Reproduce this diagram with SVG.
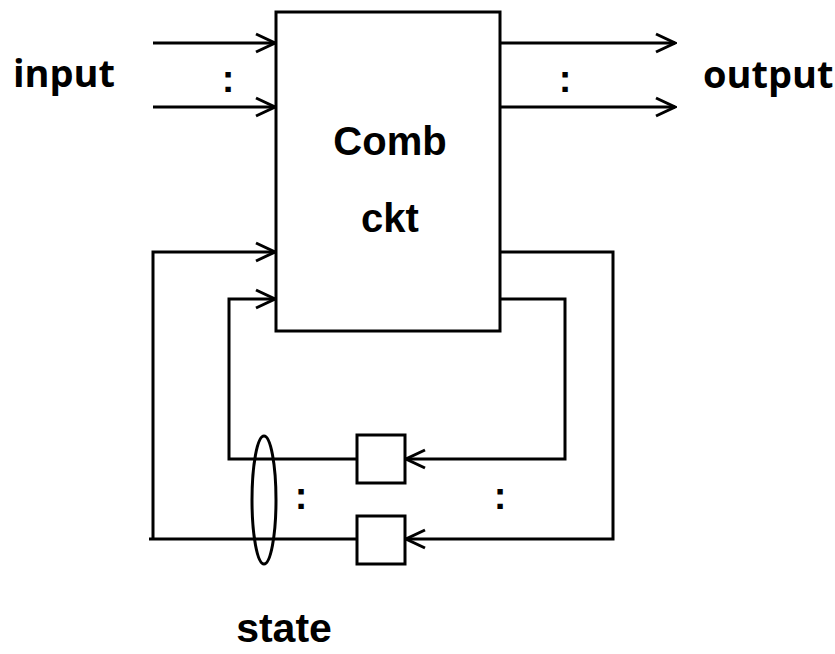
<svg xmlns="http://www.w3.org/2000/svg" width="835" height="654" viewBox="0 0 835 654">
<style>
.ln{fill:none;stroke:#000;stroke-width:3;stroke-linecap:butt;stroke-linejoin:miter}
.bx{fill:#fff;stroke:#000;stroke-width:3}
.ah{fill:none;stroke:#000;stroke-width:3}
.t{font-family:"Liberation Sans",Arial,sans-serif;font-weight:bold;fill:#000}
.t2{font-family:"Open Sans","Noto Sans",sans-serif;font-weight:bold;fill:#000}
</style>
<defs>
<marker id="arr" markerUnits="userSpaceOnUse" markerWidth="24" markerHeight="24" viewBox="-22 -12 24 24" refX="0" refY="0" orient="auto">
<path d="M-19,-9 L0,0 L-19,9" class="ah"/>
</marker>
</defs>
<rect width="835" height="654" fill="#fff"/>
<g id="connectors">
<line class="ln" x1="153" y1="43" x2="275" y2="43" marker-end="url(#arr)"/>
<line class="ln" x1="153" y1="107" x2="275" y2="107" marker-end="url(#arr)"/>
<line class="ln" x1="500" y1="43" x2="675" y2="43" marker-end="url(#arr)"/>
<line class="ln" x1="500" y1="107" x2="675" y2="107" marker-end="url(#arr)"/>
<polyline class="ln" points="500,252 613,252 613,539 406,539" marker-end="url(#arr)"/>
<polyline class="ln" points="500,299 565,299 565,459 406,459" marker-end="url(#arr)"/>
<polyline class="ln" points="357,459 229,459 229,299 275,299" marker-end="url(#arr)"/>
<polyline class="ln" points="357,539 149,539"/>
<polyline class="ln" points="153,539 153,252 275,252" marker-end="url(#arr)"/>
</g>
<g id="comb">
<rect class="bx" x="276" y="12" width="224" height="319"/>
<text class="t" x="390" y="155" font-size="40" text-anchor="middle">Comb</text>
<text class="t" x="390" y="232" font-size="40" text-anchor="middle">ckt</text>
</g>
<g id="ff1"><rect class="bx" x="357" y="435" width="48" height="48"/></g>
<g id="ff2"><rect class="bx" x="357" y="516" width="48" height="48"/></g>
<g id="state-ellipse"><ellipse cx="264" cy="500" rx="12" ry="64" fill="none" stroke="#000" stroke-width="3"/></g>
<g id="labels">
<text class="t2" x="13" y="87" font-size="38">input</text>
<text class="t2" x="703" y="88" font-size="38">output</text>
<text class="t" x="284" y="642" font-size="41" text-anchor="middle">state</text>
<text class="t" x="228" y="92" font-size="38" text-anchor="middle">:</text>
<text class="t" x="565" y="92" font-size="38" text-anchor="middle">:</text>
<text class="t" x="301" y="509" font-size="38" text-anchor="middle">:</text>
<text class="t" x="500" y="509" font-size="38" text-anchor="middle">:</text>
</g>
</svg>
